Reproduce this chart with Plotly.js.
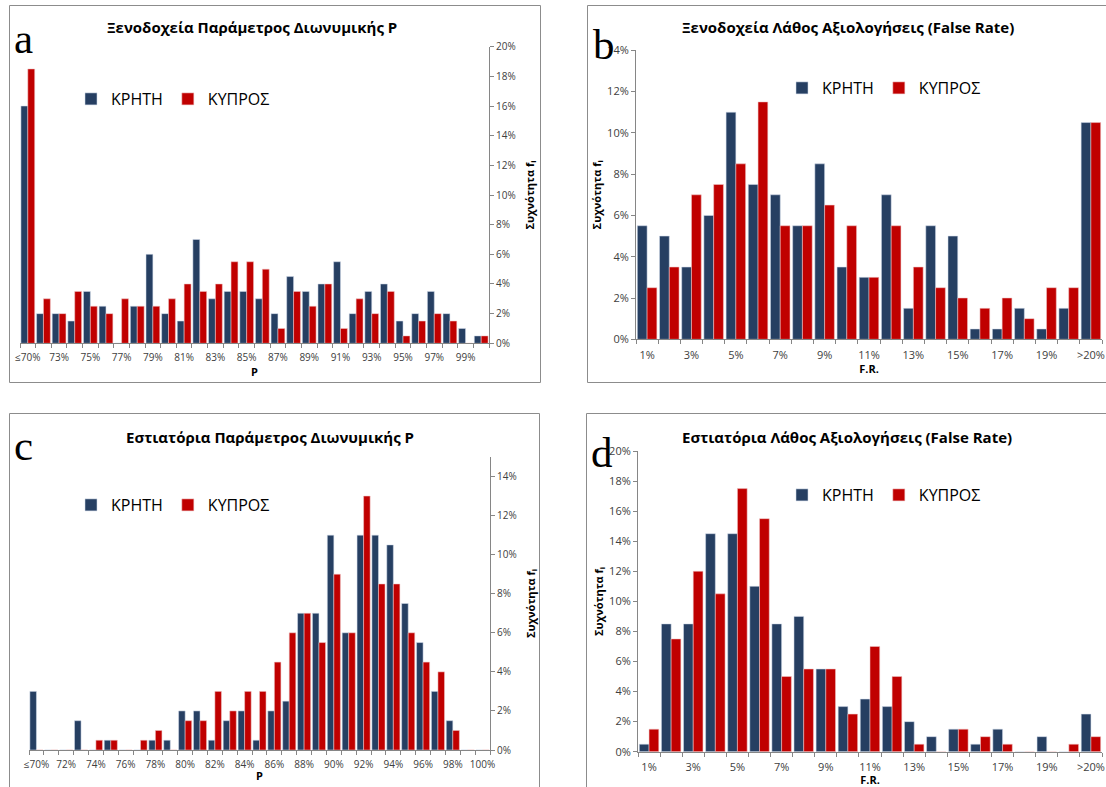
<!DOCTYPE html>
<html><head><meta charset="utf-8">
<script src="https://cdn.plot.ly/plotly-3.0.1.min.js"></script>
<style>html,body{margin:0;padding:0;background:#fff}#chart{width:1106px;height:787px}</style>
</head><body><div id="chart"></div>
<script>
// ---------- DATA ----------
const seriesNames = ['ΚΡΗΤΗ', 'ΚΥΠΡΟΣ'];

// (a) Hotels – binomial parameter P
const catsHotelP = ['≤70%','72%','73%','74%','75%','76%','77%','78%','79%','80%','81%','82%','83%','84%','85%','86%','87%','88%','89%','90%','91%','92%','93%','94%','95%','96%','97%','98%','99%','100%'];
const hotelP_crete  = [16, 2, 2, 1.5, 3.5, 2.5, 0, 2.5, 6, 2, 1.5, 7, 3, 3.5, 3.5, 3, 2, 4.5, 3.5, 4, 5.5, 2, 3.5, 4, 1.5, 2, 3.5, 2, 1, 0.5];
const hotelP_cyprus = [18.5, 3, 2, 3.5, 2.5, 2, 3, 2.5, 2.5, 3, 4, 3.5, 4, 5.5, 5.5, 5, 1, 3.5, 2.5, 4, 1, 3, 2, 3.5, 0.5, 1.5, 2, 1.5, 0, 0.5];

// (b) Hotels – false rate
const catsFR = ['1%','2%','3%','4%','5%','6%','7%','8%','9%','10%','11%','12%','13%','14%','15%','16%','17%','18%','19%','20%','>20%'];
const hotelFR_crete  = [5.5, 5, 3.5, 6, 11, 7.5, 7, 5.5, 8.5, 3.5, 3, 7, 1.5, 5.5, 5, 0.5, 0.5, 1.5, 0.5, 1.5, 10.5];
const hotelFR_cyprus = [2.5, 3.5, 7, 7.5, 8.5, 11.5, 5.5, 5.5, 6.5, 5.5, 3, 5.5, 3.5, 2.5, 2, 1.5, 2, 1, 2.5, 2.5, 10.5];

// (c) Restaurants – binomial parameter P
const catsRestP = ['≤70%','71%','72%','73%','74%','75%','76%','77%','78%','79%','80%','81%','82%','83%','84%','85%','86%','87%','88%','89%','90%','91%','92%','93%','94%','95%','96%','97%','98%','99%','100%'];
const restP_crete  = [3, 0, 0, 1.5, 0, 0.5, 0, 0, 0.5, 0.5, 2, 2, 0.5, 1.5, 2, 0.5, 2, 2.5, 7, 7, 11, 6, 11, 11, 10.5, 7.5, 5.5, 3, 1.5, 0, 0];
const restP_cyprus = [0, 0, 0, 0, 0.5, 0.5, 0, 0.5, 1, 0, 1.5, 1.5, 3, 2, 3, 3, 4.5, 6, 7, 5.5, 9, 6, 13, 8.5, 8.5, 6, 4.5, 4, 1, 0, 0];

// (d) Restaurants – false rate
const restFR_crete  = [0.5, 8.5, 8.5, 14.5, 14.5, 11, 8.5, 9, 5.5, 3, 3.5, 3, 2, 1, 1.5, 0.5, 1.5, 0, 1, 0, 2.5];
const restFR_cyprus = [1.5, 7.5, 12, 10.5, 17.5, 15.5, 5, 5.5, 5.5, 2.5, 7, 5, 0.5, 0, 1.5, 1, 0.5, 0, 0, 0.5, 1];

const titles = [
  'Ξενοδοχεία Παράμετρος Διωνυμικής P',
  'Ξενοδοχεία Λάθος Αξιολογήσεις (False Rate)',
  'Εστιατόρια Παράμετρος Διωνυμικής P',
  'Εστιατόρια Λάθος Αξιολογήσεις (False Rate)'
];
const panelLetters = ['a', 'b', 'c', 'd'];
const yTitle = 'Συχνότητα f<sub>i</sub>';

// ---------- STYLE ----------
const W = 1106, H = 787;
const px = v => v / W;
const py = v => 1 - v / H;
const BLUE = '#263F62', RED = '#C00000';
const FONT = 'Open Sans, Noto Sans, sans-serif';
const AX = '#868686';
const TICKC = '#404040';

const idx = cats => cats.map((c, i) => i);
const everyOther = cats => cats.map((c, i) => i).filter(i => i % 2 === 0);

function traces(cats, a, b, xa, ya, leg) {
  return [
    {type: 'bar', name: seriesNames[0], x: idx(cats), y: a, xaxis: xa, yaxis: ya, legend: leg,
     marker: {color: BLUE, line: {color: 'rgba(210,220,235,0.9)', width: 0.6}}, hoverinfo: 'y'},
    {type: 'bar', name: seriesNames[1], x: idx(cats), y: b, xaxis: xa, yaxis: ya, legend: leg,
     marker: {color: RED, line: {color: 'rgba(240,200,200,0.9)', width: 0.6}}, hoverinfo: 'y'}
  ];
}

function xAxis(cats, dom, anchor, title, fs) {
  return {
    domain: dom, anchor: anchor, range: [-0.5, cats.length - 0.5],
    tickmode: 'array', tickvals: everyOther(cats), ticktext: everyOther(cats).map(i => cats[i]),
    ticks: '', ticklabelstandoff: 5,
    tickfont: {family: FONT, size: fs, color: TICKC},
    showline: true, linecolor: AX, linewidth: 1, showgrid: false, zeroline: false, fixedrange: true,
    minor: {tickmode: 'linear', tick0: -0.5, dtick: 1, ticks: 'outside', ticklen: 4, tickcolor: AX, showgrid: false},
    title: {text: title, font: {family: FONT, size: 11, color: '#000', weight: 'bold'}, standoff: 2}
  };
}
function yAxis(dom, anchor, max, side, fs) {
  return {
    domain: dom, anchor: anchor, side: side, range: [0, max], tickmode: 'linear', tick0: 0, dtick: 2,
    ticksuffix: '%', ticks: 'outside', ticklen: 4, tickcolor: AX,
    tickfont: {family: FONT, size: fs, color: TICKC},
    showline: true, linecolor: AX, linewidth: 1, showgrid: false, zeroline: false, fixedrange: true,
    title: {text: yTitle, font: {family: FONT, size: 11, color: '#000', weight: 'bold'},
            standoff: side === 'right' ? 11 : 3}
  };
}

const data = [].concat(
  traces(catsHotelP, hotelP_crete, hotelP_cyprus, 'x', 'y', 'legend'),
  traces(catsFR, hotelFR_crete, hotelFR_cyprus, 'x2', 'y2', 'legend2'),
  traces(catsRestP, restP_crete, restP_cyprus, 'x3', 'y3', 'legend3'),
  traces(catsFR, restFR_crete, restFR_cyprus, 'x4', 'y4', 'legend4')
);

function legend(x, y) {
  return {x: px(x), y: py(y), xanchor: 'left', yanchor: 'middle', orientation: 'h',
          bgcolor: 'rgba(0,0,0,0)', font: {family: FONT, size: 16, color: '#000'},
          itemclick: false, itemdoubleclick: false};
}
function titleAnn(text, x, y) {
  return {text: '<b>' + text + '</b>', x: px(x), y: py(y), xref: 'paper', yref: 'paper',
          showarrow: false, xanchor: 'center', yanchor: 'middle',
          font: {family: FONT, size: 15, color: '#000'}};
}
function letterAnn(text, x, y) {
  return {text: text, x: px(x), y: py(y), xref: 'paper', yref: 'paper', showarrow: false,
          xanchor: 'center', yanchor: 'middle',
          font: {family: 'Liberation Serif, DejaVu Serif, serif', size: 43, color: '#000'}};
}
function frame(x0, x1, y0, y1) {
  return {type: 'rect', xref: 'paper', yref: 'paper', x0: px(x0), x1: px(x1), y0: py(y1), y1: py(y0),
          line: {color: '#8c8c8c', width: 1}, fillcolor: 'rgba(0,0,0,0)', layer: 'below'};
}

const layout = {
  width: W, height: H, margin: {l: 0, r: 0, t: 0, b: 0},
  paper_bgcolor: '#fff', plot_bgcolor: 'rgba(0,0,0,0)',
  barmode: 'group', bargap: 0.12, bargroupgap: 0,
  font: {family: FONT},
  xaxis:  xAxis(catsHotelP, [px(20), px(489)], 'y', '<b>P</b>', 10),
  yaxis:  yAxis([py(343.3), py(46.7)], 'x', 20, 'right', 10),
  xaxis2: xAxis(catsFR, [px(636), px(1102)], 'y2', '<b>F.R.</b>', 11),
  yaxis2: yAxis([py(339.3), py(50.3)], 'x2', 14, 'left', 11),
  xaxis3: xAxis(catsRestP, [px(29), px(490)], 'y3', '<b>P</b>', 10),
  yaxis3: yAxis([py(750), py(457)], 'x3', 15, 'right', 10),
  xaxis4: xAxis(catsFR, [px(638), px(1102)], 'y4', '<b>F.R.</b>', 11),
  yaxis4: yAxis([py(751.7), py(451)], 'x4', 20, 'left', 11),
  legend:  legend(71, 99),
  legend2: legend(782, 88),
  legend3: legend(71, 505),
  legend4: legend(782, 495),
  annotations: [
    titleAnn(titles[0], 252, 27), titleAnn(titles[1], 848, 27),
    titleAnn(titles[2], 270, 437), titleAnn(titles[3], 847, 437),
    letterAnn(panelLetters[0], 23, 38), letterAnn(panelLetters[1], 604, 45),
    letterAnn(panelLetters[2], 23, 445), letterAnn(panelLetters[3], 602, 452)
  ],
  shapes: [
    frame(9.5, 540.5, 5.5, 382.5),
    frame(587.5, 1130, 5.5, 382.5),
    frame(9.5, 539.5, 413.5, 800),
    frame(586.5, 1130, 413.5, 800)
  ]
};

Plotly.newPlot('chart', data, layout, {staticPlot: true, displayModeBar: false});
</script>
</body></html>
